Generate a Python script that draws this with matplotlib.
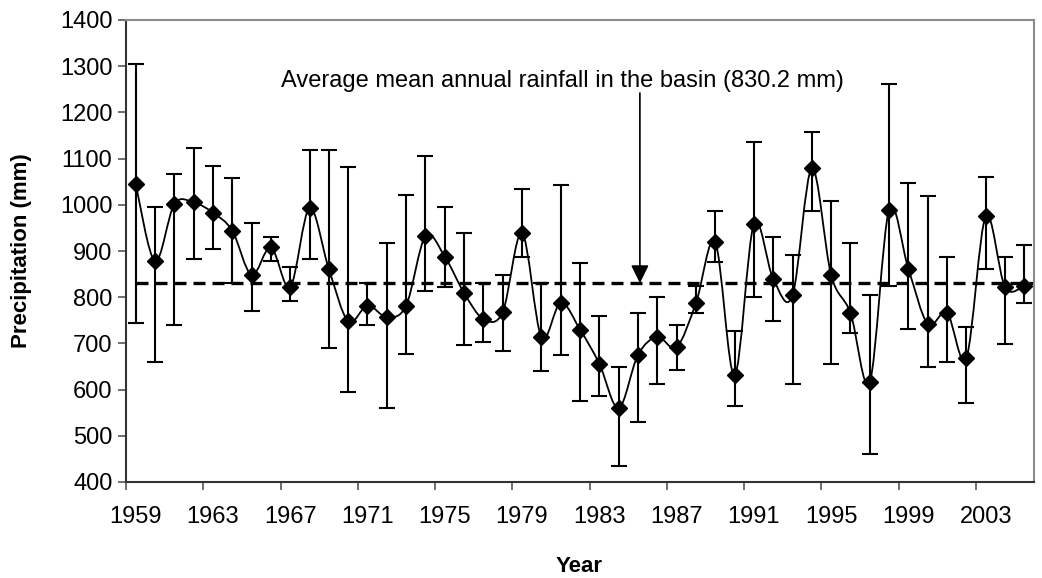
import matplotlib.pyplot as plt
import numpy as np
from matplotlib.path import Path
from matplotlib.patches import PathPatch

plt.rcParams['font.family'] = ['Liberation Sans', 'DejaVu Sans']

# annual basin precipitation (mm) with upper / lower range
years = list(range(1959, 2006))
precip = [1045, 878, 1001, 1005, 983, 944, 848, 908, 822, 993,
          861, 748, 782, 757, 782, 932, 888, 809, 753, 768,
          939, 714, 788, 730, 656, 560, 675, 714, 692, 787,
          919, 631, 958, 840, 804, 1079, 848, 766, 617, 989,
          861, 742, 766, 669, 975, 822, 825]
upper = [1305, 996, 1066, 1122, 1083, 1058, 960, 931, 866, 1119,
         1119, 1082, 831, 918, 1022, 1105, 996, 939, 831, 848,
         1035, 831, 1043, 875, 760, 648, 766, 800, 739, 825,
         987, 726, 1137, 931, 892, 1158, 1009, 918, 804, 1262,
         1048, 1018, 887, 735, 1060, 886, 914]
lower = [744, 660, 739, 883, 904, 831, 770, 879, 791, 883,
         691, 595, 739, 560, 678, 813, 823, 696, 704, 683,
         888, 640, 675, 575, 586, 435, 530, 613, 643, 766,
         876, 565, 800, 748, 613, 987, 656, 722, 460, 825,
         731, 648, 660, 570, 861, 699, 787]
mean_rain = 830.2
tick_labels = ['1959', '1963', '1967', '1971', '1975', '1979',
               '1983', '1987', '1991', '1995', '1999', '2003']


def smooth_path(x, y):
    # Catmull-Rom style bezier through every point (spreadsheet "smoothed line")
    pts = np.column_stack([np.asarray(x, float), np.asarray(y, float)])
    ext = np.vstack([pts[0], pts, pts[-1]])
    verts = [pts[0]]
    codes = [Path.MOVETO]
    for i in range(len(pts) - 1):
        p0, p1, p2, p3 = ext[i], ext[i + 1], ext[i + 2], ext[i + 3]
        verts += [p1 + (p2 - p0) / 6, p2 - (p3 - p1) / 6, p2]
        codes += [Path.CURVE4] * 3
    return Path(verts, codes)


fig = plt.figure(figsize=(10.42, 5.78), dpi=100)
ax = fig.add_axes([126 / 1042, 1 - 482 / 578, 908 / 1042, 462 / 578])

precip_arr = np.array(precip)
yerr = [precip_arr - np.array(lower), np.array(upper) - precip_arr]

ax.hlines(mean_rain, years[0], years[-1] + 0.5, colors='black',
          linestyles=(0, (3.6, 2.1)), linewidth=2.4, zorder=1)
ax.errorbar(years, precip, yerr=yerr, fmt='none', ecolor='black',
            elinewidth=1.5, capsize=5.5, capthick=1.5, zorder=2)
ax.add_patch(PathPatch(smooth_path(years, precip), fill=False,
                       edgecolor='black', linewidth=1.3, zorder=3))
ax.plot(years, precip, 'D', color='black', markersize=8.5, zorder=4)

ax.text(0.1707, 0.8556, 'Average mean annual rainfall in the basin (830.2 mm)',
        transform=ax.transAxes, fontsize=17, ha='left', va='baseline')
ax.annotate('', xy=(1985.1, mean_rain), xycoords='data',
            xytext=(1985.1, 0.842), textcoords=('data', 'axes fraction'),
            arrowprops=dict(arrowstyle='-|>,head_length=0.55,head_width=0.27',
                            mutation_scale=20, lw=1.2, color='black',
                            shrinkA=0, shrinkB=0))

ax.set_xlim(years[0] - 0.5, years[-1] + 0.5)
ax.set_ylim(400, 1400)
ax.set_yticks(range(400, 1401, 100))
ax.set_xticks(np.arange(years[0] - 0.5, years[-1], 4))
ax.set_xticklabels([])
ax.set_xticks([int(t) for t in tick_labels], minor=True)
ax.set_xticklabels(tick_labels, minor=True)

ax.tick_params(axis='x', which='major', length=5.8, width=1.2,
               color='#555555', direction='out')
ax.tick_params(axis='x', which='minor', length=0, pad=17, labelsize=17)
ax.tick_params(axis='y', length=5.8, width=1.2, color='#555555',
               direction='out', pad=4, labelsize=17)

for side in ['left', 'bottom']:
    ax.spines[side].set_color('#333333')
    ax.spines[side].set_linewidth(1.5)
for side in ['top', 'right']:
    ax.spines[side].set_color('#8c8c8c')
    ax.spines[side].set_linewidth(1.5)

fig.text(22 / 1042, 1 - 251 / 578, 'Precipitation (mm)', rotation=90,
         fontsize=16, fontweight='bold', ha='center', va='center')
fig.text(579 / 1042, 1 - 572 / 578, 'Year', fontsize=16,
         fontweight='bold', ha='center', va='baseline')

fig.savefig('out.png', dpi=100)
